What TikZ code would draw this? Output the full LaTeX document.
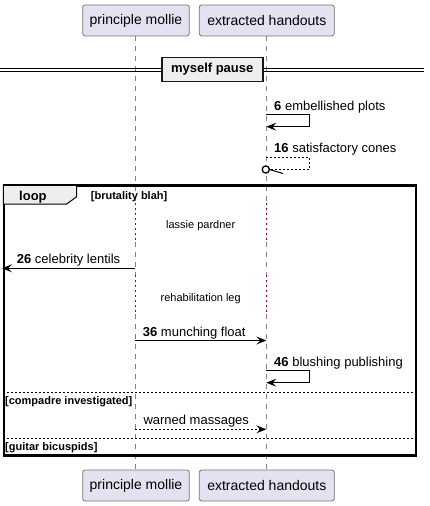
\documentclass[tikz,border=0pt]{standalone}
\usepackage{fontspec}
\setmainfont{Liberation Sans}
\usetikzlibrary{arrows.meta}
\definecolor{partfill}{HTML}{E2E2F0}
\definecolor{partdraw}{HTML}{181818}
\definecolor{delaycol}{HTML}{A80036}
\definecolor{framefill}{HTML}{EEEEEE}
\begin{document}
\begin{tikzpicture}[x=1pt,y=-1pt,
  part/.style={draw=partdraw!60, fill=partfill, rounded corners=2.5pt, line width=0.8pt,
    font=\fontsize{14}{16}\selectfont, inner sep=0pt, minimum height=31pt},
  msg/.style={font=\fontsize{13}{15}\selectfont, anchor=base west, inner sep=0pt},
  smalltxt/.style={font=\fontsize{11}{13}\selectfont, anchor=base, inner sep=0pt},
  guard/.style={font=\fontsize{11}{13}\selectfont\bfseries, anchor=base west, inner sep=0pt},
  arr/.style={-{Stealth[length=10pt,width=8pt,inset=4pt]}, line width=1pt},
  darr/.style={-{Stealth[length=10pt,width=8pt,inset=4pt]}, line width=1pt, dash pattern=on 2pt off 2pt},
  life/.style={draw=gray, dash pattern=on 5pt off 5pt, line width=0.8pt},
  delayline/.style={draw=delaycol, dash pattern=on 1.5pt off 3.5pt, line width=1.4pt},
  sep/.style={dash pattern=on 2pt off 2pt, line width=0.8pt}]

\useasboundingbox (0,0) rectangle (430,506);

% participants
\node[part, minimum width=106.6pt] (pm) at (136,20.4) {principle mollie};
\node[part, minimum width=135pt] (eh) at (266.8,20.4) {extracted handouts};
\node[part, minimum width=106.6pt] (pmb) at (136,485.5) {principle mollie};
\node[part, minimum width=135pt] (ehb) at (266.8,485.5) {extracted handouts};

% lifeline coordinates
\foreach \n/\x in {A/135.3,B/266.3}{
  \coordinate (\n0) at (\x,35.9);
  \coordinate (\n1) at (\x,203.3);
  \coordinate (\n2) at (\x,241.7);
  \coordinate (\n3) at (\x,275);
  \coordinate (\n4) at (\x,314.3);
  \coordinate (\n5) at (\x,469.3);
  \draw[life] (\n0) -- (\n1);
  \draw[delayline] (\n1) -- (\n2);
  \draw[life] (\n2) -- (\n3);
  \draw[delayline] (\n3) -- (\n4);
  \draw[life] (\n4) -- (\n5);
}

% divider
\coordinate (dl1) at (0,68.3); \coordinate (dr1) at (424,68.3);
\coordinate (dl2) at (0,71.7); \coordinate (dr2) at (424,71.7);
\draw[line width=1pt] (dl1) -- (dr1);
\draw[line width=1pt] (dl2) -- (dr2);
\node[draw=partdraw, line width=1.6pt, fill=framefill, minimum width=101pt, minimum height=24pt,
  inner sep=0pt, font=\fontsize{13}{15}\selectfont\bfseries] (pause) at (212.2,69.5) {myself pause};

% message 6
\coordinate (m6s) at (266.3,114.3);
\coordinate (m6e) at (266.3,126.7);
\draw[arr] (m6s) -- ++(43,0) |- (m6e);
\node[msg] (t6) at (274,110) {\textbf{6} embellished plots};

% message 16
\coordinate (m16s) at (266.3,157);
\coordinate (m16e) at (269.5,169.5);
\coordinate (m16c) at (265.8,169.5);
\coordinate (m16b) at (283,173.5);
\draw[line width=0.8pt, dash pattern=on 2pt off 2pt] (m16s) -- ++(43,0) |- (m16e);
\draw[line width=1.3pt, fill=white] (m16c) circle (3.6pt);
\draw[line width=1pt] (m16e) -- (m16b);
\node[msg] (t16) at (274,152.7) {\textbf{16} satisfactory cones};

% loop frame
\node[draw, line width=1.5pt, minimum width=411.7pt, minimum height=269.3pt, anchor=north west,
  inner sep=0pt] (loopframe) at (3.3,185) {};
\draw[line width=1pt, fill=framefill] (3.3,185) -- (76.7,185) -- (76.7,196.7) -- (66.7,204) -- (3.3,204) -- cycle;
\draw[line width=1.5pt] (loopframe.north west) rectangle (loopframe.south east);
\node[font=\fontsize{13}{15}\selectfont\bfseries, anchor=base west, inner sep=0pt] (looplbl) at (19,200) {loop};
\node[guard] (g1) at (90.7,199) {[brutality blah]};

% delays
\node[smalltxt] (d1) at (200.7,228.3) {lassie pardner};
\node[smalltxt] (d2) at (200.7,301.7) {rehabilitation leg};

% message 26
\coordinate (m26s) at (135.3,268.3);
\coordinate (m26e) at (2,268.3);
\draw[arr] (m26s) -- (m26e);
\node[msg] (t26) at (16.7,263.3) {\textbf{26} celebrity lentils};

% message 36
\coordinate (m36s) at (135.3,340.5);
\coordinate (m36e) at (266.3,340.5);
\draw[arr] (m36s) -- (m36e);
\node[msg] (t36) at (142.7,336) {\textbf{36} munching float};

% message 46
\coordinate (m46s) at (266.3,370.7);
\coordinate (m46e) at (266.3,382.7);
\draw[arr] (m46s) -- ++(43,0) |- (m46e);
\node[msg] (t46) at (274,366) {\textbf{46} blushing publishing};

% else sections
\coordinate (s1l) at (3.3,392.3); \coordinate (s1r) at (415,392.3);
\draw[sep] (s1l) -- (s1r);
\node[guard] (g2) at (5,404) {[compadre investigated]};

\coordinate (mws) at (135.3,429.3);
\coordinate (mwe) at (266.3,429.3);
\draw[darr] (mws) -- (mwe);
\node[msg] (tw) at (143.3,424) {warned massages};

\coordinate (s2l) at (3.3,438.3); \coordinate (s2r) at (415,438.3);
\draw[sep] (s2l) -- (s2r);
\node[guard] (g3) at (5,450) {[guitar bicuspids]};
\end{tikzpicture}
\end{document}
